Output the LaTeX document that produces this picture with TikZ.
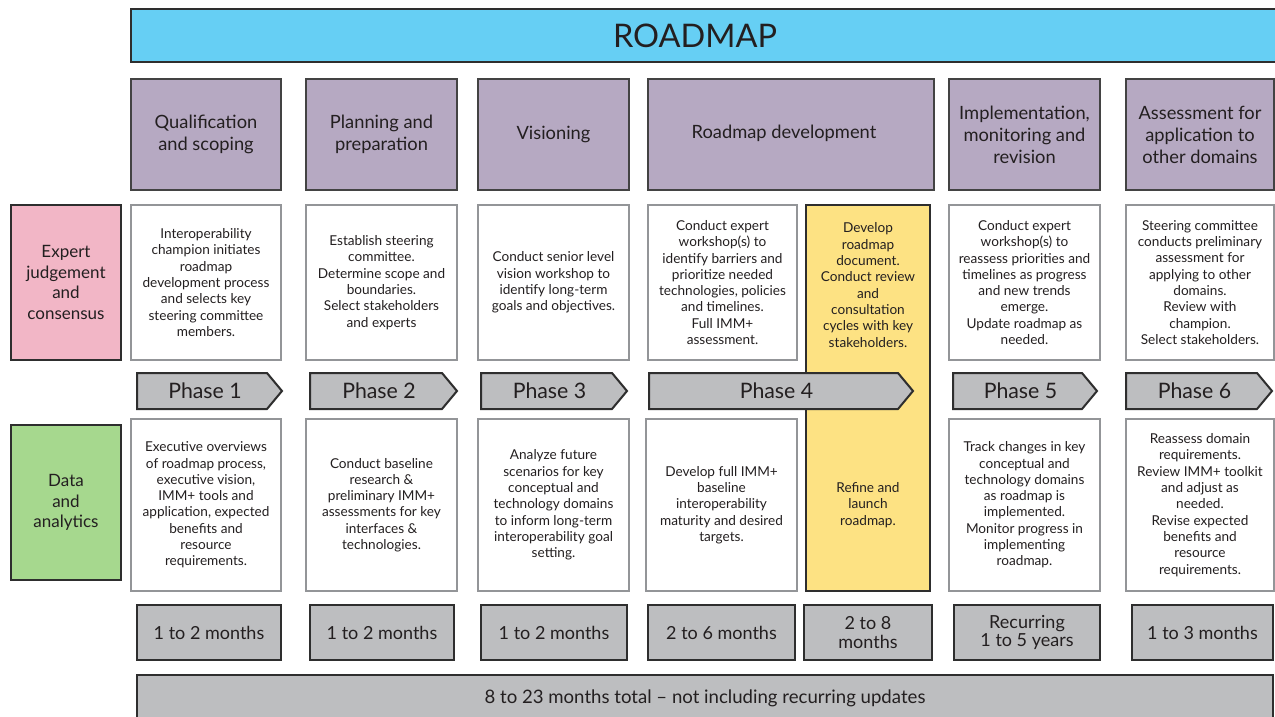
\documentclass[tikz,border=0pt]{standalone}
\usepackage{fontspec}
\setmainfont{Lato}
\definecolor{txt}{HTML}{231F20}
\definecolor{titlefill}{HTML}{66CFF4}
\definecolor{purp}{HTML}{B6A9C2}
\definecolor{pinkf}{HTML}{F2B6C6}
\definecolor{greenf}{HTML}{A6D88E}
\definecolor{yell}{HTML}{FDE283}
\definecolor{grayf}{HTML}{BDBEC0}
\definecolor{dk}{HTML}{2E2E2E}
\definecolor{gborder}{HTML}{939598}
\tikzset{
  box/.style={rectangle, inner sep=0pt, outer sep=0pt, align=center, text=txt},
  titlebar/.style={box, fill=titlefill, draw=dk, line width=2pt},
  head/.style={box, fill=purp, draw=dk!90, line width=1.5pt, font=\fontsize{18.3}{22}\selectfont},
  sidelab/.style={box, draw=dk, line width=2pt, font=\fontsize{17}{20.5}\selectfont},
  wbox/.style={box, fill=white, draw=gborder, line width=1.5pt, font=\fontsize{13.6}{16.3}\selectfont},
  ybox/.style={box, fill=yell, draw=dk, line width=2pt},
  bodytext/.style={box, font=\fontsize{13.6}{16.3}\selectfont},
  phase/.style={fill=grayf, draw=dk, line width=2pt, line join=miter},
  phasetext/.style={box, font=\fontsize{21.3}{24}\selectfont},
  dur/.style={box, fill=grayf, draw=dk, line width=2pt, font=\fontsize{18}{18.5}\selectfont},
}
\newcommand\mybox[7]{\node[#1, minimum width={#5-#3}, minimum height={#6-#4}] (#2) at ({(#3+#5)/2},{(#4+#6)/2}) {#7};}
\newcommand\phasearr[4]{%
  \draw[phase] (#2,373) -- ({#3-15},373) -- (#3,391) -- ({#3-15},409) -- (#2,409) -- cycle;
  \node[phasetext] (#1) at ({(#2+#3-15)/2+3},391) {#4};}
\begin{document}
\begin{tikzpicture}[x=1pt,y=-1pt]
\useasboundingbox (0,0) rectangle (1275,717);
% title
\mybox{titlebar}{title}{131}{9}{1290}{62}{}
\node[box, font=\fontsize{32.5}{38}\selectfont] (titletext) at (695,36) {ROADMAP};
% headers
\mybox{head}{h1}{131}{79}{281}{190}{Qualification\\and scoping}
\mybox{head}{h2}{306}{79}{457}{190}{Planning and\\preparation}
\mybox{head}{h3}{478}{79}{629}{190}{Visioning}
\mybox{head}{h4}{648}{79}{934}{190}{}
\node[box, font=\fontsize{18.3}{22}\selectfont] (h4text) at (784,133) {Roadmap development};
\mybox{head}{h5}{949}{79}{1100}{190}{Implementation,\\monitoring and\\revision}
\mybox{head}{h6}{1126}{79}{1274}{190}{Assessment for\\application to\\other domains}
% side labels
\mybox{sidelab, fill=pinkf}{expert}{11}{205}{121}{360}{Expert\\judgement\\and\\consensus}
\mybox{sidelab, fill=greenf}{data}{11}{425}{121}{580}{Data\\and\\analytics}
% row 1
\mybox{wbox}{a1}{131}{205}{281}{360}{Interoperability\\champion initiates\\roadmap\\development process\\and selects key\\steering committee\\members.}
\mybox{wbox}{a2}{306}{205}{457}{360}{Establish steering\\committee.\\Determine scope and\\boundaries.\\Select stakeholders\\and experts}
\mybox{wbox}{a3}{478}{205}{629}{360}{Conduct senior level\\vision workshop to\\identify long-term\\goals and objectives.}
\mybox{wbox}{a4}{648}{205}{797}{360}{Conduct expert\\workshop(s) to\\identify barriers and\\prioritize needed\\technologies, policies\\and timelines.\\Full IMM+\\assessment.}
\mybox{wbox}{a5}{949}{205}{1100}{360}{Conduct expert\\workshop(s) to\\reassess priorities and\\timelines as progress\\and new trends\\emerge.\\Update roadmap as\\needed.}
\mybox{wbox}{a6}{1126}{205}{1274}{360}{Steering committee\\conducts preliminary\\assessment for\\applying to other\\domains.\\Review with\\champion.\\Select stakeholders.}
% row 2
\mybox{wbox}{b1}{131}{419}{281}{591}{Executive overviews\\of roadmap process,\\executive vision,\\IMM+ tools and\\application, expected\\benefits and\\resource\\requirements.}
\mybox{wbox}{b2}{306}{419}{457}{591}{Conduct baseline\\research \&\\preliminary IMM+\\assessments for key\\interfaces \&\\technologies.}
\mybox{wbox}{b3}{478}{419}{629}{591}{Analyze future\\scenarios for key\\conceptual and\\technology domains\\to inform long-term\\interoperability goal\\setting.}
\mybox{wbox}{b4}{646}{419}{797}{591}{Develop full IMM+\\baseline\\interoperability\\maturity and desired\\targets.}
\mybox{wbox}{b5}{949}{419}{1100}{591}{Track changes in key\\conceptual and\\technology domains\\as roadmap is\\implemented.\\Monitor progress in\\implementing\\roadmap.}
\mybox{wbox}{b6}{1126}{419}{1274}{591}{Reassess domain\\requirements.\\Review IMM+ toolkit\\and adjust as\\needed.\\Revise expected\\benefits and\\resource\\requirements.}
% yellow column
\mybox{ybox}{yellow}{806}{205}{930}{591}{}
\node[bodytext] (ytop) at (868,285) {Develop\\roadmap\\document.\\Conduct review\\and\\consultation\\cycles with key\\stakeholders.};
\node[bodytext] (ybot) at (868,505) {Refine and\\launch\\roadmap.};
% phases
\phasearr{p1}{137}{282}{Phase 1}
\phasearr{p2}{310}{457}{Phase 2}
\phasearr{p3}{481}{627}{Phase 3}
\phasearr{p4}{649}{913}{Phase 4}
\phasearr{p5}{953}{1097}{Phase 5}
\phasearr{p6}{1126}{1272}{Phase 6}
% durations
\mybox{dur}{d1}{137}{605}{281}{660}{1 to 2 months}
\mybox{dur}{d2}{310}{605}{454}{660}{1 to 2 months}
\mybox{dur}{d3}{481}{605}{627}{660}{1 to 2 months}
\mybox{dur}{d4}{648}{605}{795}{660}{2 to 6 months}
\mybox{dur}{d5}{804}{605}{932}{660}{2 to 8\\months}
\mybox{dur}{d6}{954}{605}{1100}{660}{Recurring\\1 to 5 years}
\mybox{dur}{d7}{1132}{605}{1273}{660}{1 to 3 months}
% total
\mybox{dur}{total}{137}{675}{1273}{730}{}
\node[box, font=\fontsize{18.6}{20}\selectfont] (totaltext) at (705,698) {8 to 23 months total -- not including recurring updates};
\end{tikzpicture}
\end{document}
